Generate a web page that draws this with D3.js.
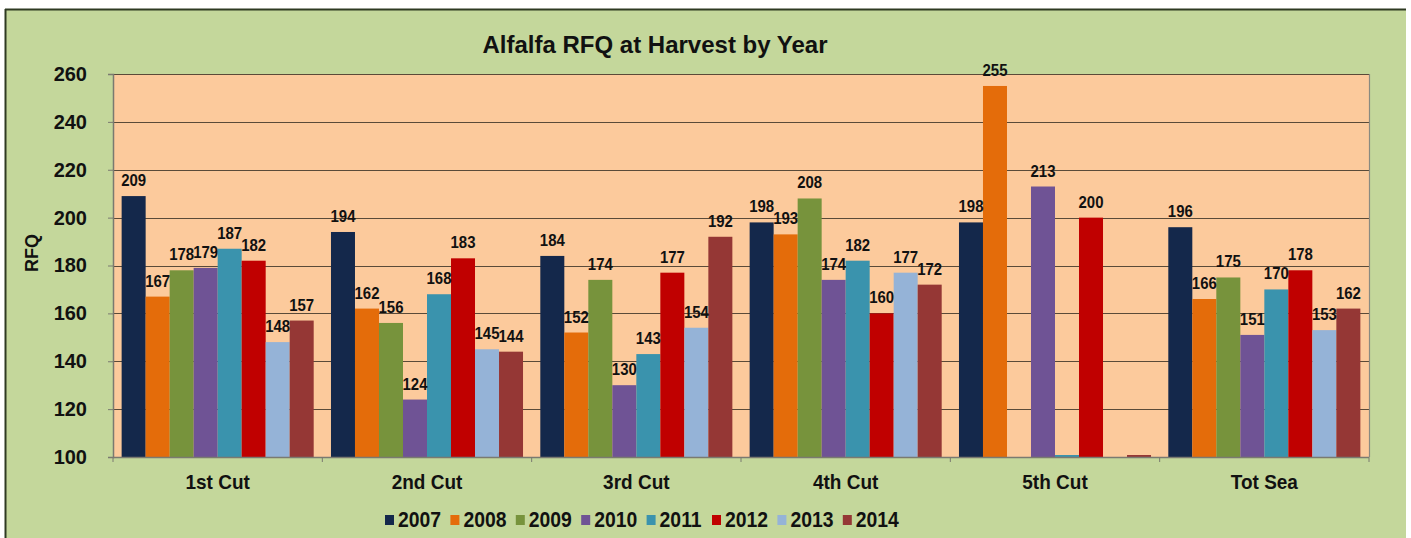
<!DOCTYPE html>
<html>
<head>
<meta charset="utf-8">
<script src="https://cdn.jsdelivr.net/npm/d3@7"></script>
<style>
  html, body { margin: 0; padding: 0; background: #ffffff; }
  svg { display: block; font-family: Arial, "Liberation Sans", sans-serif; }
</style>
</head>
<body>
<svg id="chart" width="1411" height="538"></svg>
<script>
// Alfalfa RFQ by cutting, one series per year
const categories = ["1st Cut", "2nd Cut", "3rd Cut", "4th Cut", "5th Cut", "Tot Sea"];
const years = ["2007", "2008", "2009", "2010", "2011", "2012", "2013", "2014"];
const colors = ["#14284b", "#e46c0a", "#77933c", "#6f5395", "#3a93ad", "#c00000", "#95b3d7", "#953735"];

// values per year, in category order (null = no harvest that year)
const rfq2007 = [209, 194, 184, 198, 198, 196];
const rfq2008 = [167, 162, 152, 193, 255, 166];
const rfq2009 = [178, 156, 174, 208, null, 175];
const rfq2010 = [179, 124, 130, 174, 213, 151];
const rfq2011 = [187, 168, 143, 182, 100, 170];
const rfq2012 = [182, 183, 177, 160, 200, 178];
const rfq2013 = [148, 145, 154, 177, null, 153];
const rfq2014 = [157, 144, 192, 172, 100, 162];
const seriesValues = [rfq2007, rfq2008, rfq2009, rfq2010, rfq2011, rfq2012, rfq2013, rfq2014];

const yTicks = [100, 120, 140, 160, 180, 200, 220, 240, 260];

const svg = d3.select("#chart");
const FONT = "Arial, 'Liberation Sans', sans-serif";
const squeeze = 0.88; // narrow bold lettering

// outer panel
svg.append("rect").attr("x", 5).attr("y", 9).attr("width", 1401).attr("height", 535)
  .attr("fill", "#c4d79b");
svg.append("line").attr("x1", 5).attr("x2", 1406).attr("y1", 9.5).attr("y2", 9.5)
  .attr("stroke", "#2e3a22").attr("stroke-width", 2);
svg.append("line").attr("x1", 5.5).attr("x2", 5.5).attr("y1", 9).attr("y2", 538)
  .attr("stroke", "#2e3a22").attr("stroke-width", 2);

const plot = { left: 113, right: 1369, top: 74, bottom: 457 };

const x0 = d3.scaleBand().domain(categories).range([plot.left, plot.right]).paddingInner(0).paddingOuter(0);
const x1 = d3.scaleBand().domain(years).range([0, x0.bandwidth()]).paddingOuter(0.36).paddingInner(0);
const y = d3.scaleLinear().domain([100, 260]).range([plot.bottom, plot.top]);

// plot area
svg.append("rect").attr("x", plot.left).attr("y", plot.top)
  .attr("width", plot.right - plot.left).attr("height", plot.bottom - plot.top)
  .attr("fill", "#fcca9c");

// gridlines
svg.append("g").selectAll("line").data(yTicks.slice(1)).join("line")
  .attr("x1", plot.left).attr("x2", plot.right)
  .attr("y1", d => Math.round(y(d)) + 0.5).attr("y2", d => Math.round(y(d)) + 0.5)
  .attr("stroke", "#5a4a38").attr("stroke-width", 1.2);

// right border of plot area
svg.append("line").attr("x1", plot.right + 0.5).attr("x2", plot.right + 0.5)
  .attr("y1", plot.top).attr("y2", plot.bottom).attr("stroke", "#8a8a80").attr("stroke-width", 1.2);

// bars
const groups = svg.append("g").selectAll("g").data(categories).join("g")
  .attr("transform", c => `translate(${x0(c)},0)`);

const barData = (c, ci) => years.map((yr, si) => ({ yr, si, v: seriesValues[si][ci] }))
  .filter(d => d.v !== null);

groups.each(function (c, ci) {
  const g = d3.select(this);
  const data = barData(c, ci);
  g.selectAll("rect").data(data).join("rect")
    .attr("x", d => x1(d.yr))
    .attr("width", x1.bandwidth())
    .attr("y", d => Math.min(y(d.v), plot.bottom - 2))
    .attr("height", d => Math.max(plot.bottom - y(d.v), 2))
    .attr("fill", d => colors[d.si]);
  g.selectAll("text").data(data.filter(d => d.v > 100)).join("text")
    .attr("transform", d => `translate(${x1(d.yr) + x1.bandwidth() / 2},${y(d.v) - 10}) scale(${squeeze},1)`)
    .attr("text-anchor", "middle")
    .attr("font-size", 17).attr("font-weight", "bold").attr("fill", "#111")
    .text(d => d.v);
});

// y axis
const yAxis = svg.append("g").attr("transform", `translate(${plot.left},0)`)
  .call(d3.axisLeft(y).tickValues(yTicks).tickSize(5).tickPadding(21).tickFormat(d3.format("d")));
yAxis.select(".domain").attr("stroke", "#7a7a70").attr("stroke-width", 1.5);
yAxis.selectAll(".tick line").attr("stroke", "#7a7a70");
yAxis.selectAll(".tick text").attr("font-size", 20).attr("font-weight", "bold").attr("fill", "#111")
  .attr("font-family", FONT);

// x axis with ticks at category boundaries
const xAxis = svg.append("g").attr("transform", `translate(0,${plot.bottom})`);
xAxis.append("line").attr("x1", plot.left).attr("x2", plot.right).attr("y1", 0.5).attr("y2", 0.5)
  .attr("stroke", "#7a7a70").attr("stroke-width", 1.5);
const bounds = categories.map(c => x0(c)).concat([plot.right]);
xAxis.selectAll("line.b").data(bounds).join("line").attr("class", "b")
  .attr("x1", d => d).attr("x2", d => d).attr("y1", 0).attr("y2", 5)
  .attr("stroke", "#7a7a70");
svg.append("g").selectAll("text").data(categories).join("text")
  .attr("transform", c => `translate(${x0(c) + x0.bandwidth() / 2},489) scale(0.95,1)`)
  .attr("text-anchor", "middle").attr("font-size", 20).attr("font-weight", "bold").attr("fill", "#111")
  .text(c => c);

// y axis title
svg.append("text").attr("transform", "translate(38,253) rotate(-90)")
  .attr("text-anchor", "middle").attr("font-size", 18).attr("font-weight", "bold").attr("fill", "#111")
  .text("RFQ");

// chart title
svg.append("text").attr("x", 655).attr("y", 53).attr("text-anchor", "middle")
  .attr("font-size", 24).attr("font-weight", "bold").attr("fill", "#111")
  .text("Alfalfa RFQ at Harvest by Year");

// legend
const legend = svg.append("g").selectAll("g").data(years).join("g")
  .attr("transform", (d, i) => `translate(${385 + i * 65.4},0)`);
legend.append("rect").attr("x", 0).attr("y", 515).attr("width", 9).attr("height", 10)
  .attr("fill", (d, i) => colors[i]);
legend.append("text").attr("transform", `translate(13,527) scale(${squeeze},1)`)
  .attr("font-size", 22).attr("font-weight", "bold")
  .attr("fill", "#111").text(d => d);
</script>
</body>
</html>
